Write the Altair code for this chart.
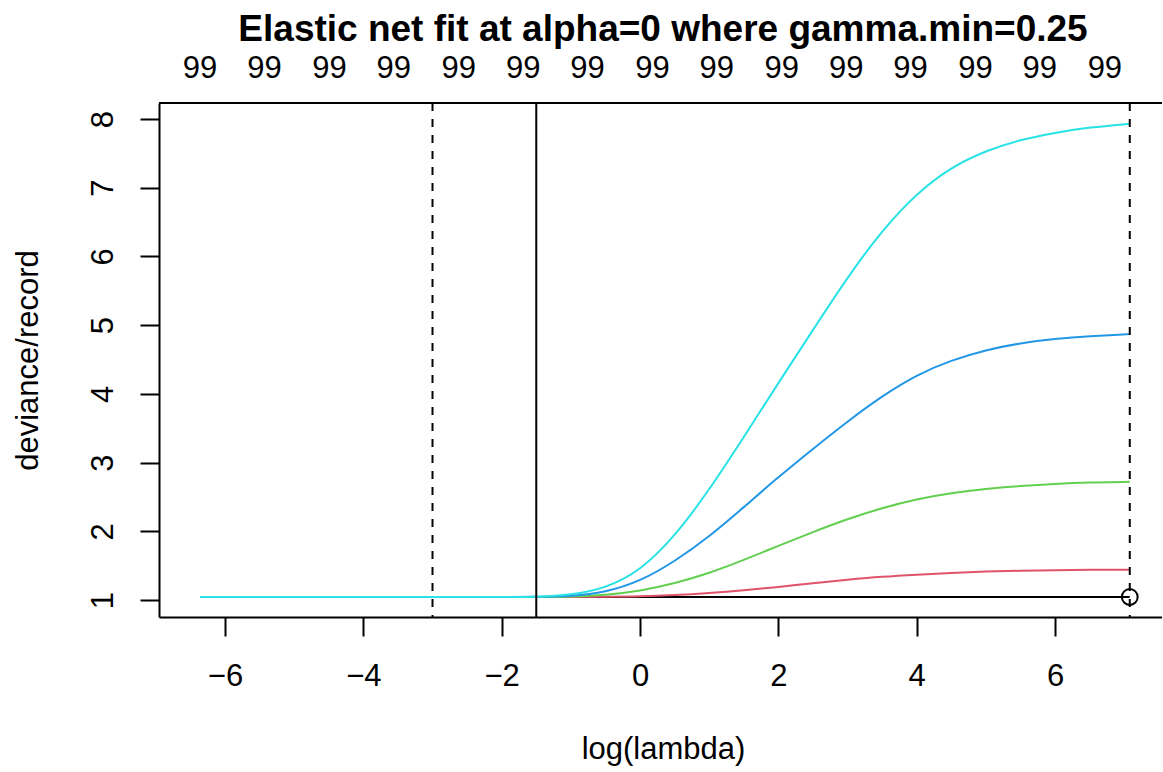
import altair as alt
import pandas as pd

# ---- data ----
log_lambda = [-6.36, -5.0, -4.0, -3.0, -2.0, -1.5, -1.0, -0.5, 0.0, 0.5, 1.0, 1.5,
              2.0, 2.5, 3.0, 3.5, 4.0, 4.5, 5.0, 5.5, 6.0, 6.5, 7.08]
gamma_0 = [1.044, 1.044, 1.044, 1.044, 1.044, 1.044, 1.044, 1.044, 1.044, 1.044, 1.044, 1.044,
           1.044, 1.044, 1.044, 1.044, 1.044, 1.044, 1.044, 1.044, 1.044, 1.044, 1.044]
gamma_025 = [1.044, 1.044, 1.044, 1.044, 1.044, 1.044, 1.045, 1.047, 1.052, 1.07, 1.10, 1.14,
             1.19, 1.245, 1.295, 1.34, 1.37, 1.395, 1.415, 1.425, 1.435, 1.44, 1.44]
gamma_05 = [1.044, 1.044, 1.044, 1.044, 1.044, 1.044, 1.05, 1.07, 1.13, 1.24, 1.39, 1.58,
            1.79, 1.99, 2.18, 2.34, 2.47, 2.56, 2.62, 2.66, 2.69, 2.71, 2.72]
gamma_075 = [1.044, 1.044, 1.044, 1.044, 1.044, 1.044, 1.055, 1.11, 1.27, 1.56, 1.92, 2.35,
             2.79, 3.20, 3.60, 3.97, 4.28, 4.49, 4.64, 4.74, 4.80, 4.84, 4.87]
gamma_1 = [1.044, 1.044, 1.044, 1.044, 1.044, 1.044, 1.07, 1.17, 1.42, 1.92, 2.60, 3.37,
           4.16, 4.93, 5.70, 6.38, 6.92, 7.30, 7.54, 7.70, 7.80, 7.88, 7.93]
series = [gamma_0, gamma_025, gamma_05, gamma_075, gamma_1]
series_colors = ["#000000", "#DF536B", "#61D04F", "#2297E6", "#28E2E5"]

dashed_lines = [-3.0, 7.08]
solid_lines = [-1.5]
min_point_x = [7.08]
min_point_y = [1.044]

top_positions = [-6.36, -5.43, -4.49, -3.56, -2.62, -1.69, -0.76, 0.18, 1.11, 2.05,
                 2.98, 3.91, 4.85, 5.78, 6.72]
top_labels = ["99"] * 15

x_ticks = [-6, -4, -2, 0, 2, 4, 6]
y_ticks = [1, 2, 3, 4, 5, 6, 7, 8]
title_text = ["Elastic net fit at alpha=0 where gamma.min=0.25"]

# ---- layout ----
W = 1003
H = 514
FONT = "Liberation Sans"

xscale = alt.Scale(domain=[-6.954, 7.546], nice=False, zero=False)
yscale = alt.Scale(domain=[0.7526, 8.233], nice=False, zero=False)

xaxis = alt.Axis(values=x_ticks, tickSize=19, tickWidth=2, tickColor="black",
                 domainWidth=2, domainColor="black", labelFontSize=31, labelFont=FONT,
                 labelColor="black", labelBaseline="alphabetic", labelPadding=49,
                 labelFlush=False, labelOverlap=False, grid=False,
                 title="log(lambda)", titleFont=FONT, titleFontSize=31,
                 titleFontWeight="normal", titleColor="black", titleX=504, titleY=141,
                 titleAlign="center", titleBaseline="alphabetic", titleAngle=0)
yaxis = alt.Axis(values=y_ticks, tickSize=19, tickWidth=2, tickColor="black",
                 domainWidth=2, domainColor="black", labelFontSize=31, labelFont=FONT,
                 labelColor="black", labelAngle=270, labelAlign="center",
                 labelBaseline="alphabetic", labelPadding=28, labelFlush=False,
                 labelOverlap=False, grid=False,
                 title="deviance/record", titleFont=FONT, titleFontSize=31,
                 titleFontWeight="normal", titleColor="black", titleX=-122, titleY=257,
                 titleAlign="center", titleBaseline="alphabetic", titleAngle=270)


def X(field="x:Q"):
    return alt.X(field, scale=xscale, axis=xaxis)


def Y(field="y:Q"):
    return alt.Y(field, scale=yscale, axis=yaxis)


layers = []
for vals, col in zip(series, series_colors):
    df = pd.DataFrame({"x": log_lambda, "y": vals})
    layers.append(
        alt.Chart(df).mark_line(color=col, strokeWidth=2, interpolate="basis").encode(
            x=X(), y=Y())
    )

dash_df = pd.DataFrame({"x": dashed_lines})
layers.append(
    alt.Chart(dash_df).mark_rule(color="black", strokeWidth=2, strokeDash=[8, 8]).encode(x=X())
)
solid_df = pd.DataFrame({"x": solid_lines})
layers.append(
    alt.Chart(solid_df).mark_rule(color="black", strokeWidth=2).encode(x=X())
)
pt_df = pd.DataFrame({"x": min_point_x, "y": min_point_y})
layers.append(
    alt.Chart(pt_df).mark_point(shape="circle", filled=False, size=250, strokeWidth=2,
                                color="black", opacity=1).encode(x=X(), y=Y())
)
top_df = pd.DataFrame({"x": top_positions, "lab": top_labels})
layers.append(
    alt.Chart(top_df).mark_text(fontSize=31, font=FONT, color="black", align="center",
                                baseline="alphabetic").encode(
        x=X(), y=alt.value(-25), text="lab:N")
)
# top border of the box
border_df = pd.DataFrame({"a": [0]})
layers.append(
    alt.Chart(border_df).mark_rule(color="black", strokeWidth=2).encode(
        x=alt.value(0), x2=alt.value(W), y=alt.value(0))
)
title_df = pd.DataFrame({"t": title_text})
layers.append(
    alt.Chart(title_df).mark_text(fontSize=37, font=FONT, fontWeight="bold", color="black",
                                  align="center", baseline="alphabetic").encode(
        x=alt.value(504), y=alt.value(-62), text="t:N")
)

chart = alt.layer(*layers).properties(
    width=W, height=H,
    autosize=alt.AutoSizeParams(type="none"),
    padding={"left": 159, "top": 103, "right": 0, "bottom": 150},
    background="white",
).configure_view(stroke=None)

chart.save("out.html", embed_options={"renderer": "svg", "actions": False})
